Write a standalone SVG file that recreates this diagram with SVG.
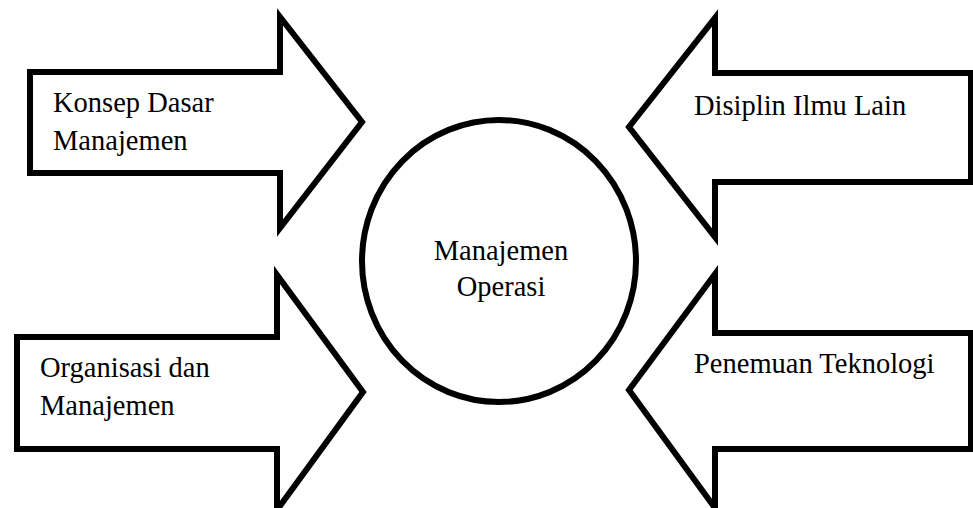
<svg xmlns="http://www.w3.org/2000/svg" width="973" height="508" viewBox="0 0 973 508">
<style>
.shape{fill:#fff;stroke:#000;stroke-width:6;stroke-linejoin:miter;stroke-miterlimit:10}
text{font-family:'Times New Roman','Liberation Serif','DejaVu Serif',serif;font-size:28.5px;fill:#000}
.c{text-anchor:middle}
</style>
<rect width="973" height="508" fill="#fff"/>
<g id="arrow-konsep">
<polygon class="shape" points="30,72 280,72 280,17 362,122 280,228 280,173 30,173"/>
<text x="53" y="112">Konsep Dasar</text>
<text x="53" y="150">Manajemen</text>
</g>
<g id="arrow-organisasi">
<polygon class="shape" points="17,337 277,337 277,275 363,392 277,510 277,449 17,449"/>
<text x="40" y="377">Organisasi dan</text>
<text x="40" y="415">Manajemen</text>
</g>
<g id="arrow-disiplin">
<polygon class="shape" points="971,73 715,73 715,18 629,127 715,237 715,182 971,182"/>
<text x="694" y="115">Disiplin Ilmu Lain</text>
</g>
<g id="arrow-penemuan">
<polygon class="shape" points="971,333 715,333 715,274 629,390 715,508 715,449 971,449"/>
<text x="694" y="373">Penemuan Teknologi</text>
</g>
<g id="node-manajemen-operasi">
<ellipse class="shape" cx="499" cy="261" rx="137" ry="141"/>
<text class="c" x="501" y="260">Manajemen</text>
<text class="c" x="501" y="296">Operasi</text>
</g>
<g id="connectors"></g>
</svg>
